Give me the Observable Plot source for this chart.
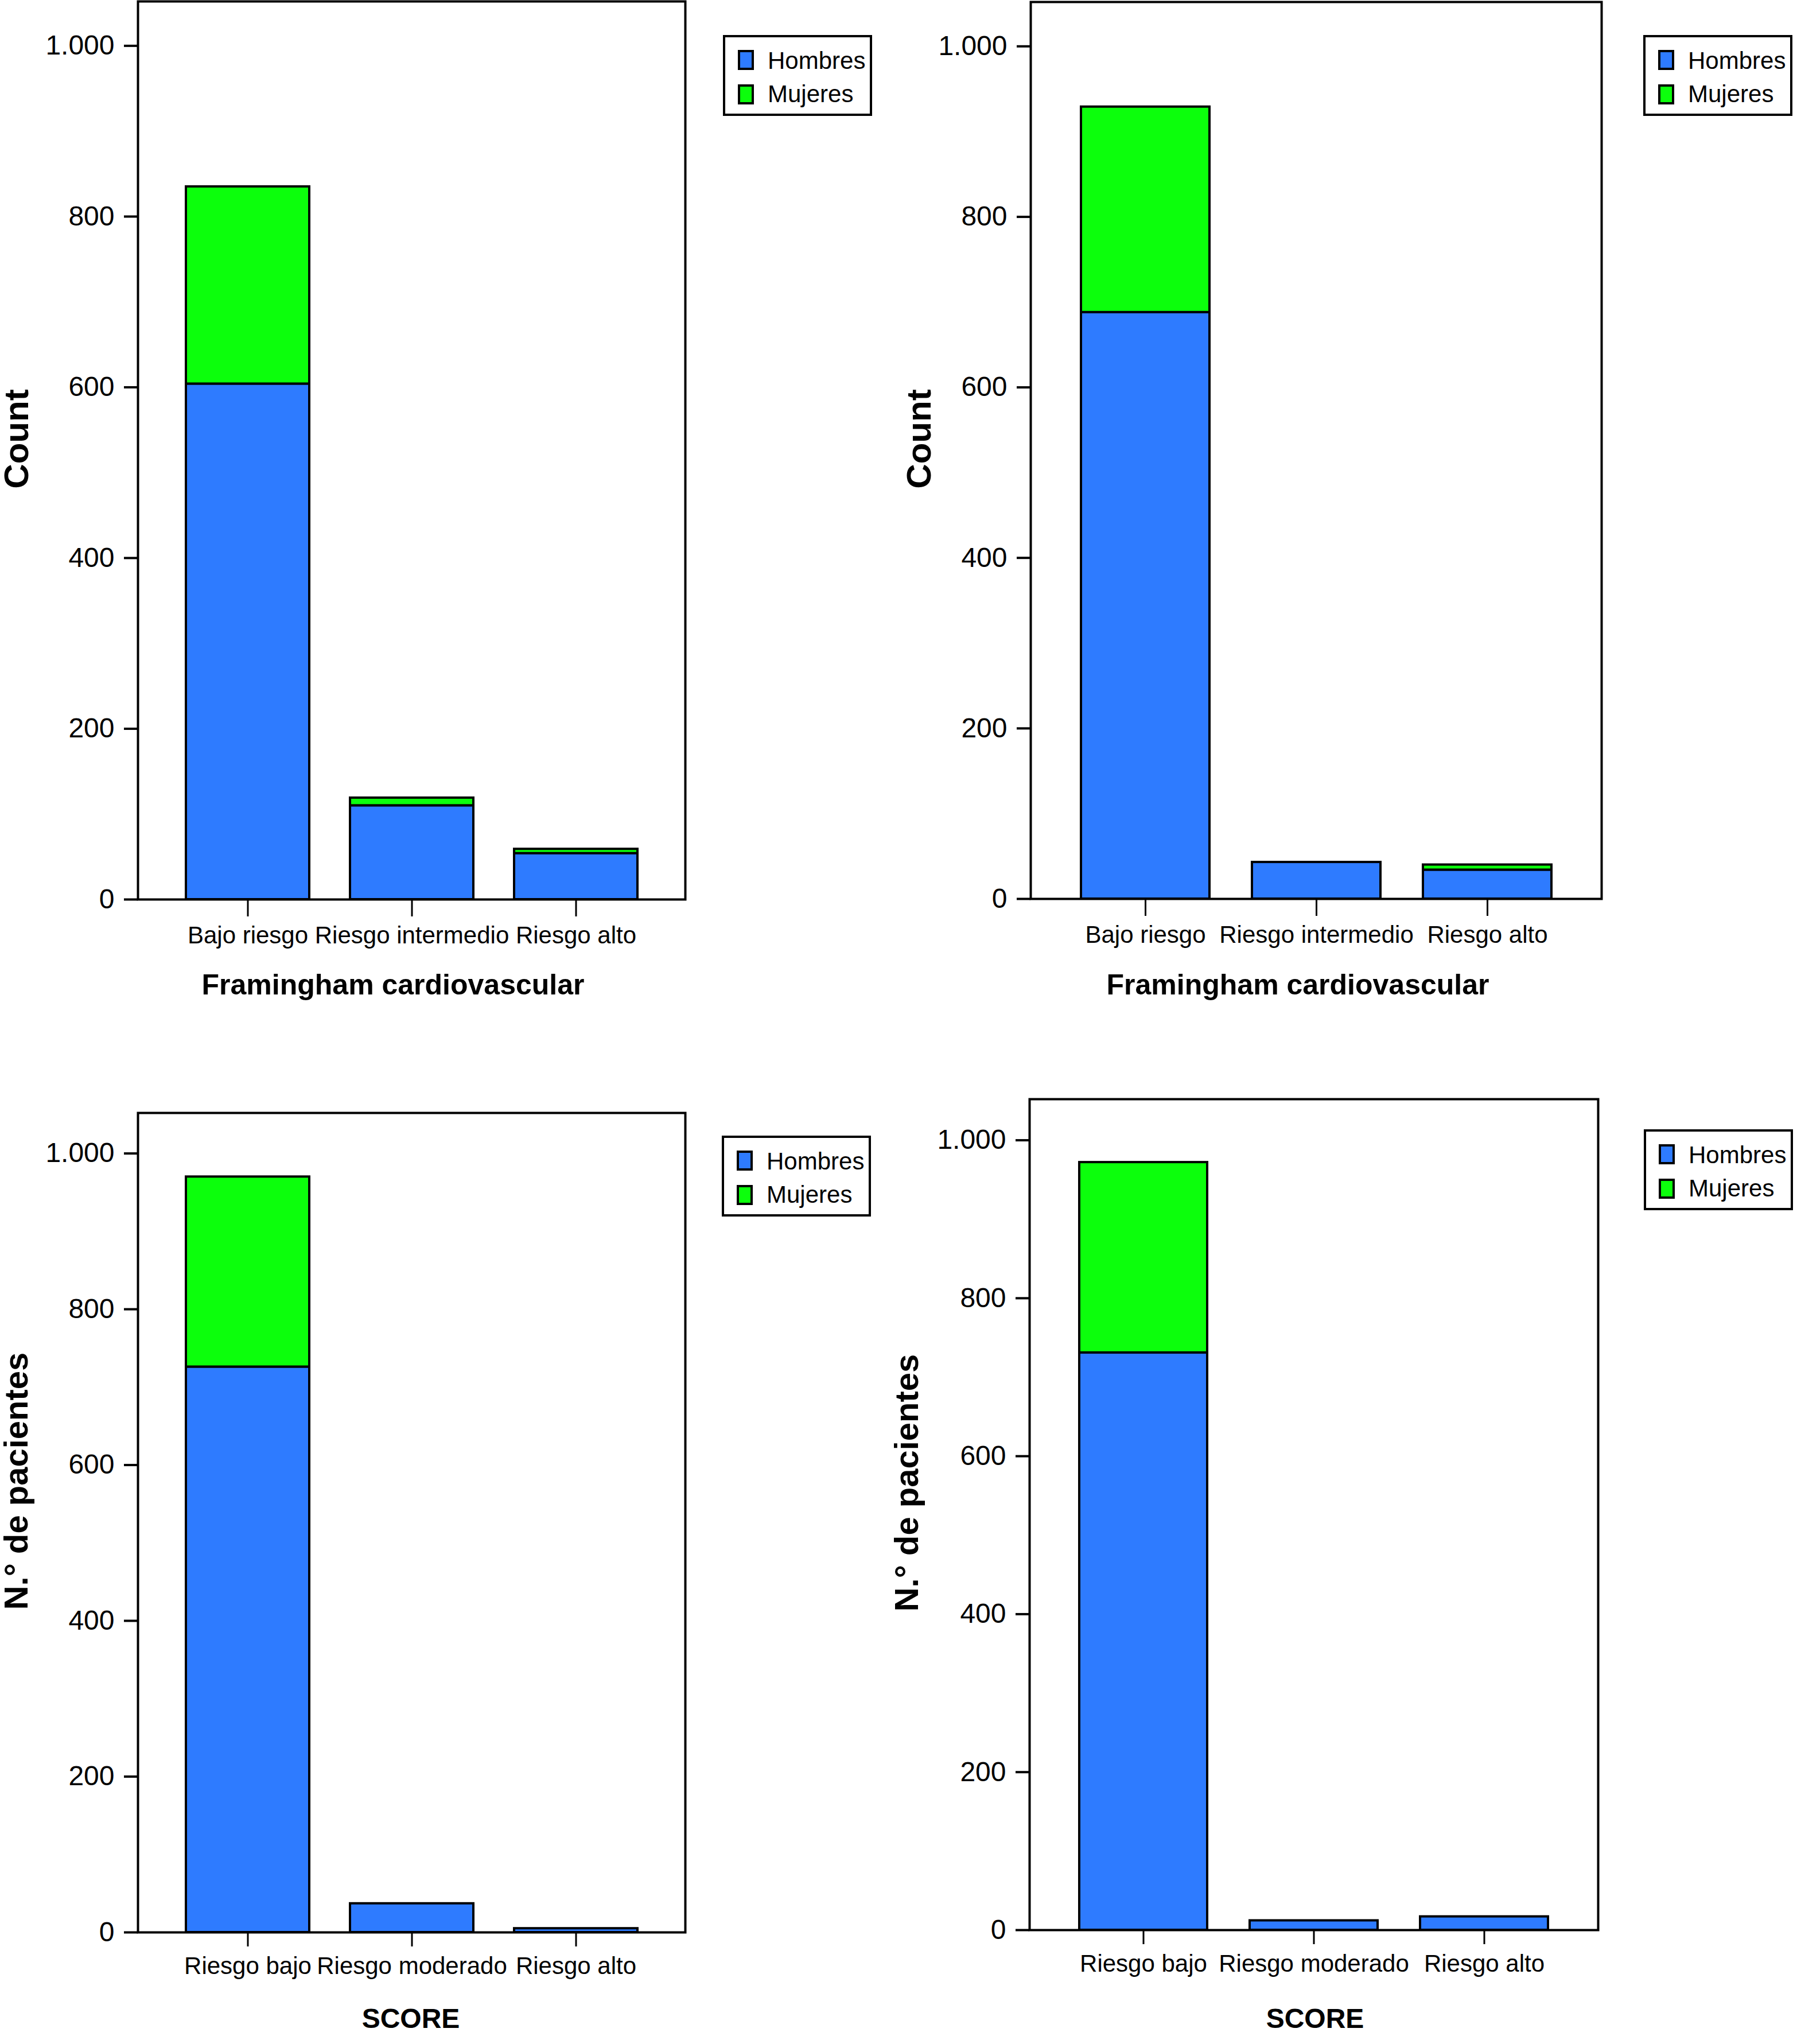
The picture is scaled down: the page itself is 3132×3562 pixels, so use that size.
<!DOCTYPE html>
<html>
<head>
<meta charset="utf-8">
<script src="https://cdn.jsdelivr.net/npm/d3@7"></script>
<script src="https://cdn.jsdelivr.net/npm/@observablehq/plot@0.6"></script>
<style>
  body { margin: 0; background: white; }
  #page { position: relative; width: 3132px; height: 3562px; font-family: "Liberation Sans", Arial, Helvetica, sans-serif; color: black; }
  .capa { position: absolute; left: 0; top: 0; }
  .titulo { position: absolute; font-weight: bold; line-height: 1; white-space: nowrap; }
  .vert { position: absolute; font-weight: bold; line-height: 1; white-space: nowrap; transform-origin: 0 0; transform: rotate(-90deg) translate(-50%, -0.85em); }
  .leyenda { position: absolute; box-sizing: border-box; border: 4px solid black; background: white; width: 260px; height: 141px; }
  .leyenda .sw { position: absolute; box-sizing: border-box; border: 4px solid black; width: 28px; height: 35px; left: 22px; }
  .leyenda .tx { position: absolute; left: 74px; font-size: 42px; line-height: 1; white-space: nowrap; }
</style>
</head>
<body>
<div id="page"></div>
<script>
// config. números español
const fmt = d3.formatLocale({decimal: ',', thousands: '.', grouping: [3], currency: ['', '']}).format(',d')

const sexos = ['Hombres', 'Mujeres']
const colores = ['#2e7bff', '#0cff0c']
const yTicks = [0, 200, 400, 600, 800, 1000]

const catFram = ['Bajo riesgo', 'Riesgo intermedio', 'Riesgo alto']
const catScore = ['Riesgo bajo', 'Riesgo moderado', 'Riesgo alto']

// Framingham (izquierda / derecha)
const framA_hombres = [604, 110, 54]
const framA_mujeres = [231, 9, 5]
const framB_hombres = [688, 43, 34]
const framB_mujeres = [241, 0, 6]

// SCORE (izquierda / derecha)
const scoreA_hombres = [726, 37, 5]
const scoreA_mujeres = [244, 0, 0]
const scoreB_hombres = [731, 12, 17]
const scoreB_mujeres = [241, 0, 0]

const W = 3132, H = 3562
const page = d3.select('#page')

function panel(cats, hombres, mujeres, f, xt) {
  const rows = cats.flatMap((c, i) => [
    {cat: c, sexo: 'Hombres', n: hombres[i]},
    {cat: c, sexo: 'Mujeres', n: mujeres[i]},
  ]).filter(d => d.n > 0)
  const chart = Plot.plot({
    width: W,
    height: H,
    marginLeft: f.left,
    marginRight: W - f.right,
    marginTop: f.top,
    marginBottom: H - f.bottom,
    style: {background: 'transparent', fontFamily: '"Liberation Sans", Arial, Helvetica, sans-serif', color: 'black', overflow: 'visible'},
    x: {domain: cats, paddingInner: 0.25, paddingOuter: 0.29, label: null},
    y: {domain: [0, 1052], label: null},
    color: {domain: sexos, range: colores},
    marks: [
      Plot.barY(rows, {x: 'cat', y: 'n', fill: 'sexo', stroke: 'black', strokeWidth: 4}),
      Plot.frame({stroke: 'black', strokeWidth: 4}),
      Plot.axisY({ticks: yTicks, tickFormat: fmt, tickSize: 24, tickPadding: 17, strokeWidth: 4, fontSize: 48, label: null}),
      Plot.axisX({tickSize: xt.size, tickPadding: xt.pad, strokeWidth: 3, fontSize: 42, label: null}),
    ],
  })
  page.append('div').attr('class', 'capa').append(() => chart)
}

function titulo(txt, cx, base, size) {
  page.append('div').attr('class', 'titulo').text(txt)
    .style('font-size', size + 'px')
    .style('left', cx + 'px')
    .style('top', (base - 0.85 * size) + 'px')
    .style('transform', 'translateX(-50%)')
}

function vertical(txt, bx, cy, size) {
  page.append('div').attr('class', 'vert').text(txt)
    .style('font-size', size + 'px')
    .style('left', bx + 'px')
    .style('top', cy + 'px')
}

function leyenda(x, y) {
  const l = page.append('div').attr('class', 'leyenda').style('left', x + 'px').style('top', y + 'px')
  sexos.forEach((s, i) => {
    l.append('div').attr('class', 'sw').style('top', (22 + i * 60) + 'px').style('background', colores[i])
    l.append('div').attr('class', 'tx').style('top', (20 + i * 58) + 'px').text(s)
  })
}

panel(catFram, framA_hombres, framA_mujeres, {left: 240, right: 1194, top: 2, bottom: 1567}, {size: 30, pad: 17})
panel(catFram, framB_hombres, framB_mujeres, {left: 1796, right: 2791, top: 3, bottom: 1566}, {size: 30, pad: 17})
panel(catScore, scoreA_hombres, scoreA_mujeres, {left: 240, right: 1194, top: 1939, bottom: 3367}, {size: 25, pad: 18})
panel(catScore, scoreB_hombres, scoreB_mujeres, {left: 1794, right: 2785, top: 1915, bottom: 3363}, {size: 25, pad: 18})

titulo('Framingham cardiovascular', 685, 1733, 50)
titulo('Framingham cardiovascular', 2262, 1733, 50)
titulo('SCORE', 716, 3535, 48)
titulo('SCORE', 2292, 3535, 48)

vertical('Count', 50, 765, 60)
vertical('Count', 1623, 765, 60)
vertical('N.° de pacientes', 48, 2581, 58)
vertical('N.° de pacientes', 1600, 2584, 58)

leyenda(1260, 61)
leyenda(2864, 61)
leyenda(1258, 1979)
leyenda(2865, 1968)
</script>
</body>
</html>
